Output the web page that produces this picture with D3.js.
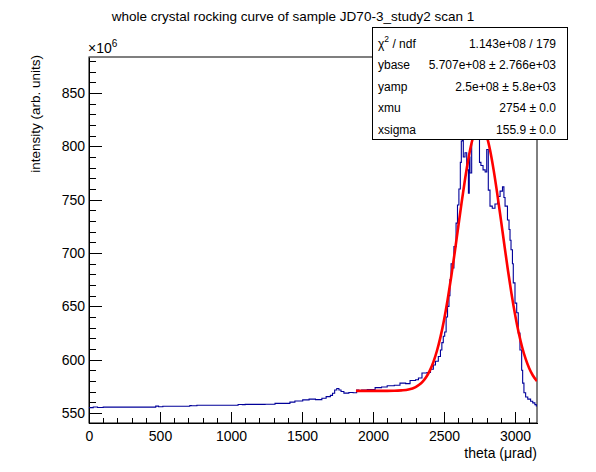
<!DOCTYPE html>
<html><head><meta charset="utf-8">
<script src="https://cdn.jsdelivr.net/npm/d3@7"></script>
<style>body{margin:0;background:#fff}svg{display:block}text{font-family:"Liberation Sans",Arial,Helvetica,sans-serif}</style>
</head><body>
<script>
// ---- data ----
const histX = [0,30,60,100,470,490,520,710,720,760,1050,1080,1100,1240,1310,1415,1450,1505,1550,1595,1640,1670,1700,1715,1730,1745,1760,1775,1795,1830,1860,1885,1900,1920,1960,2015,2060,2100,2150,2190,2230,2261,2300,2320,2345,2380,2405,2425,2440,2460,2475,2485,2495,2505,2515,2525,2535,2542,2550,2560,2570,2585,2595,2605,2615,2622,2629,2636,2648,2660,2672,2678,2683,2695,2705,2720,2730,2739,2750,2760,2775,2790,2801,2812,2824,2840,2859,2877,2895,2912,2922,2930,2947,2958,2965,2972,2982,2988,3000,3012,3023,3035,3047,3054,3063,3075,3090,3110,3125,3140,3150];
const histY = [555.0,555.6,555.1,555.5,556.4,555.8,556.3,557.0,556.8,557.2,558.0,557.8,558.1,558.2,559.0,560.2,561.3,562.3,563.0,562.5,563.8,565.3,566.5,568.5,571.5,573.0,571.5,570.2,568.6,569.2,569.0,571.5,571.0,571.4,572.0,573.8,574.3,575.6,576.0,578.0,577.5,580.4,581.2,582.8,587.5,588.0,591.0,595.0,598.5,603,609,616,622,626,640,650,660,675,690,686,706,728,745,760,785,805,850,790,794,778,756,790,775,855,862,868,860,845,785,782,778,776,797,759,744,742,746,753,758,762,752,744,731,722,712,703,690,672,653,644,625,609,590,578,569,565,563,561,559.5,557.8,556.5];
const histEnd = 3155;

const fitX = [1880,1900,2000,2100,2150,2200,2250,2300,2325,2350,2375,2400,2425,2450,2475,2500,2525,2550,2575,2600,2625,2650,2675,2700,2725,2754,2775,2800,2825,2850,2875,2900,2925,2950,2975,3000,3025,3050,3075,3100,3125,3155];
const fitY = [570.7,570.7,570.7,570.7,570.8,571.2,572.0,574.3,576.4,579.4,583.7,589.7,597.7,608.1,621.1,637.0,655.7,676.9,700.0,724.2,748.2,770.8,790.6,806.2,816.4,820.7,818.4,810.0,796.1,777.5,755.7,732.0,707.7,684.1,662.2,642.7,625.9,611.9,600.7,592.0,585.4,579.9];

const xMajorTicks = [0,500,1000,1500,2000,2500,3000];
const xMinorTicks = d3.range(0,3101,100);
const yMajorTicks = [550,600,650,700,750,800,850];
const yMinorTicks = d3.range(550,881,10);

const titleText = "whole crystal rocking curve of sample JD70-3_study2 scan 1";
const xTitle = "theta (\u03bcrad)";
const yTitle = "intensity (arb. units)";
const statNames = ["ndf","ybase","yamp","xmu","xsigma"];
const statValues = ["1.143e+08 / 179","5.707e+08 \u00b1 2.766e+03","2.5e+08 \u00b1 5.8e+03","2754 \u00b1 0.0","155.9 \u00b1 0.0"];

// ---- drawing ----
const W=596,H=472, L=89,R=537,T=57,B=423;
const svg=d3.select("body").append("svg").attr("width",W).attr("height",H);
const x=d3.scaleLinear([0,3155],[L,R]);
const y=d3.scaleLinear([540.6,883.8],[B,T]);

svg.append("defs").append("clipPath").attr("id","clip").append("rect")
  .attr("x",L).attr("y",T).attr("width",R-L).attr("height",B-T);

// frame
svg.append("rect").attr("x",L).attr("y",T).attr("width",R-L).attr("height",B-T)
  .attr("fill","none").attr("stroke","#000").attr("stroke-width",1);

// axes
const fs=14;
const yAx=svg.append("g").attr("transform",`translate(${L},0)`)
  .call(d3.axisLeft(y).tickValues(yMajorTicks).tickSizeInner(-13.4).tickSizeOuter(0).tickPadding(4).tickFormat(d3.format("d")));
const yMin=svg.append("g").attr("transform",`translate(${L},0)`)
  .call(d3.axisLeft(y).tickValues(yMinorTicks).tickSizeInner(-6.7).tickSizeOuter(0).tickFormat(""));
const xAx=svg.append("g").attr("transform",`translate(0,${B})`)
  .call(d3.axisBottom(x).tickValues(xMajorTicks).tickSizeInner(-11).tickSizeOuter(0).tickPadding(8.5).tickFormat(d3.format("d")));
const xMin=svg.append("g").attr("transform",`translate(0,${B})`)
  .call(d3.axisBottom(x).tickValues(xMinorTicks).tickSizeInner(-5.5).tickSizeOuter(0).tickFormat(""));
[yMin,xMin].forEach(g=>g.select(".domain").remove());
[yAx,yMin,xAx,xMin].forEach(g=>{g.selectAll("line").attr("stroke","#000").attr("shape-rendering","crispEdges");
  g.selectAll("text").attr("font-size",fs).attr("fill","#000").style("font-family",'"Liberation Sans",Arial,sans-serif');
  g.select(".domain").attr("stroke","#000").attr("shape-rendering","crispEdges");});

// x10^6
const ex=svg.append("text").attr("x",L-1).attr("y",53).attr("font-size",fs);
ex.append("tspan").text("\u00d710");
ex.append("tspan").attr("font-size",10).attr("dy",-6).text("6");

// histogram
const pts=histX.map((d,i)=>[d,histY[i]]); pts.push([histEnd,histY[histY.length-1]]);
const g=svg.append("g").attr("clip-path","url(#clip)");
g.append("path").datum(pts).attr("fill","none").attr("stroke","#000099").attr("stroke-width",1.1)
  .attr("d",d3.line().x(d=>x(d[0])).y(d=>y(d[1])).curve(d3.curveStepAfter));
// fit
g.append("path").datum(fitX.map((d,i)=>[d,fitY[i]])).attr("fill","none").attr("stroke","#ff0000").attr("stroke-width",2.6)
  .attr("d",d3.line().x(d=>x(d[0])).y(d=>y(d[1])).curve(d3.curveMonotoneX));

// titles
svg.append("text").attr("x",293).attr("y",21).attr("text-anchor","middle").attr("font-size",13.5).text(titleText);
svg.append("text").attr("x",R).attr("y",458).attr("text-anchor","end").attr("font-size",fs).text(xTitle);
svg.append("text").attr("transform",`translate(40,55) rotate(-90)`).attr("text-anchor","end").attr("font-size",13.5).text(yTitle);

// stats box
const bx=372,by=27,bw=195,bh=112;
svg.append("rect").attr("x",bx).attr("y",by).attr("width",bw).attr("height",bh).attr("fill","#fff").attr("stroke","#000").attr("stroke-width",1).attr("shape-rendering","crispEdges");
const rowY=i=>by+16.5+i*21.6;
statNames.forEach((n,i)=>{
  const t=svg.append("text").attr("x",bx+6).attr("y",rowY(i)).attr("dominant-baseline","central").attr("font-size",12);
  if(i===0){t.append("tspan").text("\u03c7");t.append("tspan").attr("font-size",8.5).attr("dy",-5).text("2");t.append("tspan").attr("dy",5).text(" / ndf");}
  else t.text(n);
  svg.append("text").attr("x",bx+bw-11).attr("y",rowY(i)).attr("dominant-baseline","central").attr("text-anchor","end").attr("font-size",12).text(statValues[i]);
});
</script>
</body></html>
